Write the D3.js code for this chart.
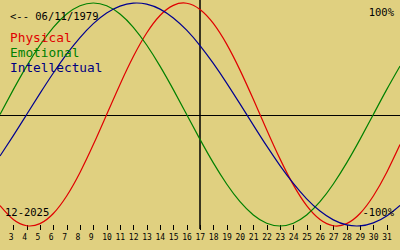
<!DOCTYPE html>
<html>
<head>
<meta charset="utf-8">
<script src="https://cdn.jsdelivr.net/npm/d3@7"></script>
<style>
  body { margin: 0; background: #e0d080; }
  text { font-family: "DejaVu Sans Mono", monospace; }
</style>
</head>
<body>
<div id="chart"></div>
<script>
// days of December 2025 shown on the x axis (2..32 are the plot edges)
const days = d3.range(2, 33);
const tickDays = d3.range(3, 32);

// biorhythm values, one per day
const physical = [-0.817, -0.942, -0.998, -0.979, -0.888, -0.731, -0.520, -0.270, 0, 0.270,
  0.520, 0.731, 0.888, 0.979, 0.998, 0.942, 0.817, 0.631, 0.398, 0.136,
  -0.136, -0.398, -0.631, -0.817, -0.942, -0.998, -0.979, -0.888, -0.731, -0.520, -0.270];
const emotional = [0, 0.223, 0.434, 0.623, 0.782, 0.901, 0.975, 1, 0.975, 0.901,
  0.782, 0.623, 0.434, 0.223, 0, -0.223, -0.434, -0.623, -0.782, -0.901,
  -0.975, -1, -0.975, -0.901, -0.782, -0.623, -0.434, -0.223, 0, 0.223, 0.434];
const intellectual = [-0.372, -0.189, 0, 0.189, 0.372, 0.541, 0.690, 0.815, 0.910, 0.972,
  0.999, 0.990, 0.945, 0.866, 0.756, 0.618, 0.458, 0.282, 0.095, -0.095,
  -0.282, -0.458, -0.618, -0.756, -0.866, -0.945, -0.990, -0.999, -0.972, -0.910, -0.815];

const seriesNames = ["Physical", "Emotional", "Intellectual"];
const today = 17;

const width = 400;
const height = 250;

const svg = d3.select("#chart")
  .append("svg")
  .attr("width", width)
  .attr("height", height);

svg.append("rect")
  .attr("width", width)
  .attr("height", height)
  .attr("fill", "#e0d080");

const x = d3.scaleLinear().domain([2, 32]).range([0, 400]);
const y = d3.scaleLinear().domain([-1, 1]).range([226, 3]);

const colors = ["#e00000", "#008000", "#000090"];
const textColors = ["#e00000", "#008000", "#000080"];

// zero line
svg.append("line")
  .attr("x1", 0).attr("x2", width)
  .attr("y1", Math.round(y(0)) + 0.5).attr("y2", Math.round(y(0)) + 0.5)
  .attr("stroke", "#000")
  .attr("stroke-width", 1);

// today line
svg.append("line")
  .attr("x1", x(today)).attr("x2", x(today))
  .attr("y1", 0).attr("y2", 229)
  .attr("stroke", "#000")
  .attr("stroke-width", 1.5);

// day ticks
const axis = d3.axisBottom(x)
  .tickValues(tickDays)
  .tickSize(5)
  .tickFormat(d3.format("d"));

const gAxis = svg.append("g")
  .attr("transform", "translate(0,225)")
  .call(axis);
gAxis.select(".domain").remove();
gAxis.selectAll(".tick line").attr("stroke", "#000").attr("shape-rendering", "crispEdges");
gAxis.selectAll(".tick text")
  .attr("y", 15)
  .attr("dy", 0)
  .attr("x", -5)
  .attr("text-anchor", "start")
  .attr("font-family", "DejaVu Sans Mono")
  .attr("font-size", 8)
  .attr("fill", "#000");

// curves
const line = d3.line()
  .x((d, i) => x(days[i]))
  .y(d => y(d))
  .curve(d3.curveNatural);

[physical, emotional, intellectual].forEach((s, i) => {
  svg.append("path")
    .datum(s)
    .attr("d", line)
    .attr("fill", "none")
    .attr("stroke", colors[i])
    .attr("stroke-width", 1.2);
});

// labels
svg.append("text")
  .attr("x", 10).attr("y", 20)
  .attr("font-size", 10.5)
  .text("<-- 06/11/1979");

svg.selectAll(".legend")
  .data(seriesNames)
  .enter()
  .append("text")
  .attr("x", 10)
  .attr("y", (d, i) => 42 + i * 15)
  .attr("font-size", 12.8)
  .attr("fill", (d, i) => textColors[i])
  .text(d => d);

svg.append("text")
  .attr("x", 394).attr("y", 16)
  .attr("text-anchor", "end")
  .attr("font-size", 10.5)
  .text("100%");

svg.append("text")
  .attr("x", 394).attr("y", 216)
  .attr("text-anchor", "end")
  .attr("font-size", 10.5)
  .text("-100%");

svg.append("text")
  .attr("x", 5).attr("y", 216)
  .attr("font-size", 10.5)
  .text("12-2025");
</script>
</body>
</html>
